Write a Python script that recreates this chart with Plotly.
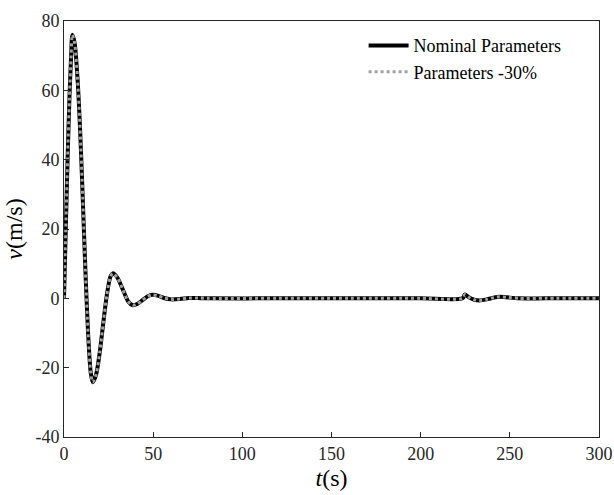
import plotly.graph_objects as go

# time samples (s)
t = [0, 1, 2, 3, 4, 4.7, 6, 7.5, 9, 10.5, 12, 13.5, 15, 16.1, 18, 20, 22, 24, 26, 27.3,
     30, 33, 36, 38.5, 41, 44, 47, 49.7, 53, 56, 60, 65, 70, 75, 80, 120, 160, 200, 223.5,
     224.8, 227, 230, 233, 237, 241, 244, 248, 255, 270, 300]

# velocity, nominal parameters (m/s)
v_nominal = [0, 20, 40, 57, 70, 76, 73.5, 64, 49, 29, 8, -10, -21.5, -24.2, -22.0, -15.7, -7.2, 0.9, 6.2, 7.2,
             5.9, 2.5, -0.9, -2.0, -1.65, -0.54, 0.6, 1.0, 0.7, 0.1, -0.3, -0.2, 0.1, 0.1, 0, 0, 0, 0, 0,
             1.1, 0.3, -0.4, -0.6, -0.3, 0.2, 0.45, 0.3, 0, 0, 0]

# velocity, parameters -30% (m/s)
v_minus30 = [0, 20, 40, 57, 70, 76, 73.5, 64, 49, 29, 8, -10, -21.5, -24.2, -22.0, -15.7, -7.2, 0.9, 6.2, 7.2,
             5.9, 2.5, -0.9, -2.0, -1.65, -0.54, 0.6, 1.0, 0.7, 0.1, -0.3, -0.2, 0.1, 0.1, 0, 0, 0, 0, 0,
             1.1, 0.3, -0.4, -0.6, -0.3, 0.2, 0.45, 0.3, 0, 0, 0]

series_names = ["Nominal Parameters", "Parameters -30%"]
x_ticks = [0, 50, 100, 150, 200, 250, 300]
y_ticks = [-40, -20, 0, 20, 40, 60, 80]
y_tick_labels = ["-40", "-20", "0", "20", "40", "60", "80"]

serif = "Liberation Serif, Times New Roman, serif"
axis_col = "#262626"

fig = go.Figure()
fig.add_trace(go.Scatter(x=t, y=v_nominal, mode="lines", name=series_names[0],
                         line=dict(color="black", width=4, shape="spline", smoothing=0.8)))
fig.add_trace(go.Scatter(x=t, y=v_minus30, mode="lines", name=series_names[1],
                         line=dict(color="#a0a0a0", width=3, dash="dot", shape="spline", smoothing=0.8)))

fig.update_layout(
    width=614, height=495,
    margin=dict(l=64, r=15, t=21, b=58),
    paper_bgcolor="white", plot_bgcolor="white",
    font=dict(family=serif, size=18, color=axis_col),
    legend=dict(x=0.56, y=0.985, xanchor="left", yanchor="top",
                bgcolor="rgba(0,0,0,0)", borderwidth=0,
                font=dict(family=serif, size=18, color="black"),
                tracegroupgap=0, itemwidth=40),
    showlegend=True,
)
fig.update_xaxes(range=[0, 300], tickvals=x_ticks, ticks="inside", ticklen=5,
                 tickcolor=axis_col, showline=True, linecolor=axis_col, linewidth=1,
                 mirror=True, showgrid=False, zeroline=False, automargin=False,
                 title=dict(text="<i>t</i>(s)", font=dict(family=serif, size=24, color="black"), standoff=6))
fig.update_yaxes(range=[-40, 80], tickvals=y_ticks, ticktext=y_tick_labels, ticks="inside", ticklen=5,
                 tickcolor=axis_col, showline=True, linecolor=axis_col, linewidth=1,
                 mirror=True, showgrid=False, zeroline=False, automargin=False,
                 title=dict(text="<i>v</i>(m/s)", font=dict(family=serif, size=24, color="black"), standoff=6))

fig.write_html("out.html", config={"displayModeBar": False},
               post_script="document.body.style.margin='0';document.body.style.overflow='hidden';")
